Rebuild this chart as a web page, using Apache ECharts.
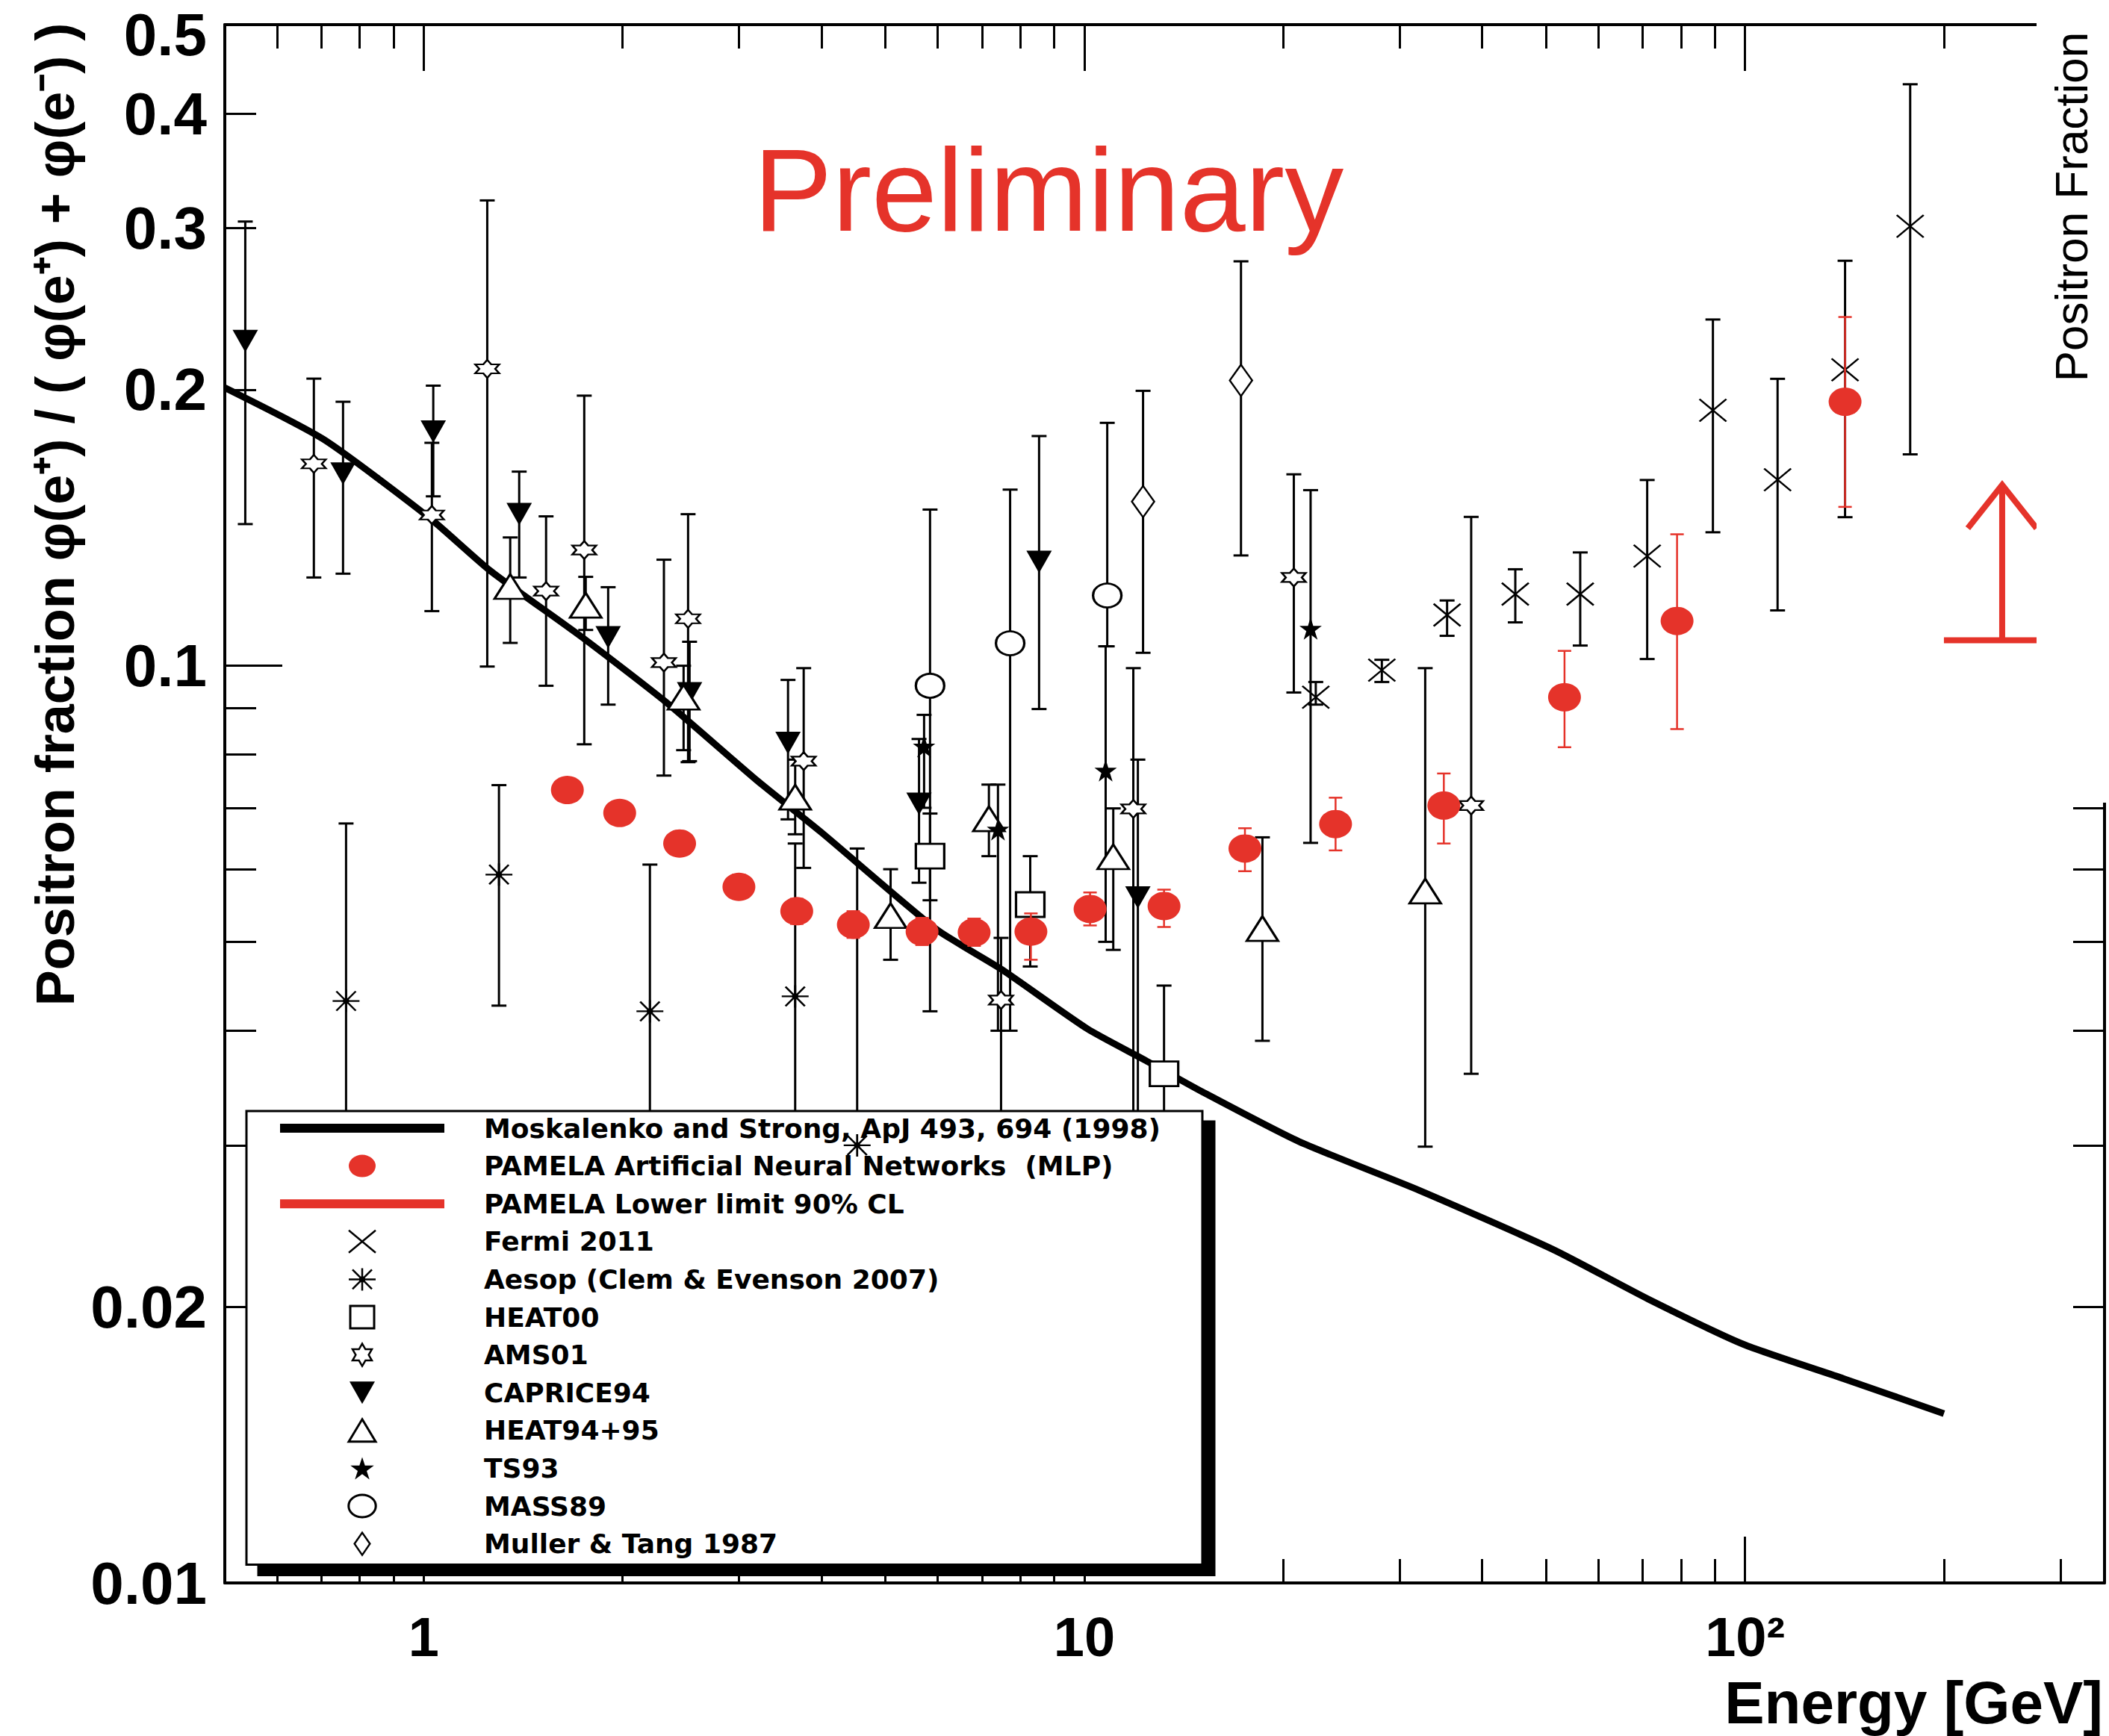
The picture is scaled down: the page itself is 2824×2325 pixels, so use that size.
<!DOCTYPE html>
<html>
<head>
<meta charset="utf-8">
<script src="https://cdn.jsdelivr.net/npm/echarts@6/dist/echarts.min.js"></script>
<style>
html,body{margin:0;padding:0;background:#fff;}
#chart{width:2824px;height:2325px;}
</style>
</head>
<body>
<div id="chart"></div>
<script>
// ---------------- DATA ----------------
const X_MIN = 0.5, X_MAX = 350;
const Y_MIN = 0.01, Y_MAX = 0.5;
const xMajorTicks = [1, 10, 100];
const xTickLabels = ['1', '10', '10²'];
const xMinorTicks = [0.6, 0.7, 0.8, 0.9, 2, 3, 4, 5, 6, 7, 8, 9, 20, 30, 40, 50, 60, 70, 80, 90, 200, 300];
const yLabelValues = [0.01, 0.02, 0.1, 0.2, 0.3, 0.4, 0.5];
const yTickLabels = ['0.01', '0.02', '0.1', '0.2', '0.3', '0.4', '0.5'];
const yMajorTicks = [0.1];
const yMinorTicks = [0.02, 0.03, 0.04, 0.05, 0.06, 0.07, 0.08, 0.09, 0.2, 0.3, 0.4];

const seriesNames = [
  'Moskalenko and Strong, ApJ 493, 694 (1998)',
  'PAMELA Artificial Neural Networks  (MLP)',
  'PAMELA Lower limit 90% CL',
  'Fermi 2011',
  'Aesop (Clem & Evenson 2007)',
  'HEAT00',
  'AMS01',
  'CAPRICE94',
  'HEAT94+95',
  'TS93',
  'MASS89',
  'Muller & Tang 1987'
];

// theory curve: [E (GeV), fraction]
const theory = [
  [0.5, 0.201], [0.706, 0.1765], [1.02, 0.145], [1.26, 0.127], [1.74, 0.1073],
  [2.33, 0.0912], [3.2, 0.0749], [4.0, 0.0658], [5.97, 0.0516], [7.48, 0.0467],
  [10.1, 0.0402], [12.4, 0.0371], [15.1, 0.0343], [21.1, 0.0303], [32.1, 0.0268],
  [51.2, 0.0231], [71.3, 0.0204], [99.5, 0.0182], [141, 0.0167], [200, 0.0153]
];

// point series: [E, value, lowErr, highErr]
const pamela = [
  [1.65, 0.0732, 0.0712, 0.0753], [1.98, 0.0691, 0.0672, 0.0711], [2.44, 0.0640, 0.0622, 0.0659],
  [3.00, 0.0574, 0.0557, 0.0592], [3.67, 0.0540, 0.0523, 0.0557], [4.47, 0.0522, 0.0505, 0.0540],
  [5.68, 0.0513, 0.0496, 0.0531], [6.81, 0.0512, 0.0495, 0.0530], [8.30, 0.0513, 0.0478, 0.0537],
  [10.2, 0.0543, 0.0521, 0.0566], [13.2, 0.0547, 0.0519, 0.0570], [17.5, 0.0632, 0.0597, 0.0665],
  [24.0, 0.0672, 0.0629, 0.0718], [35.0, 0.0704, 0.0640, 0.0763], [53.3, 0.0924, 0.0815, 0.1038],
  [78.9, 0.1119, 0.0853, 0.1391], [141.7, 0.194, 0.149, 0.240]
];
const pamelaLimit = [[245, 0.1066]];

const fermi = [
  [22.4, 0.0924, 0.0907, 0.0960], [28.2, 0.0989, 0.0960, 0.1015], [35.4, 0.1136, 0.1078, 0.1178],
  [44.9, 0.1197, 0.1115, 0.1274], [56.3, 0.1197, 0.1052, 0.1329], [71.1, 0.1317, 0.1017, 0.1594],
  [89.4, 0.1899, 0.1398, 0.2385], [112, 0.1595, 0.1149, 0.2055], [141.7, 0.2102, 0.1452, 0.2764],
  [177.8, 0.3014, 0.170, 0.4305]
];
const aesop = [
  [0.763, 0.0431, 0.026, 0.0673], [1.30, 0.0592, 0.0426, 0.0741], [2.20, 0.0420, 0.026, 0.0607],
  [3.65, 0.0436, 0.027, 0.0640], [4.53, 0.030, 0.022, 0.0632]
];
const heat00 = [
  [5.84, 0.0620, 0.0555, 0.0690], [8.28, 0.0549, 0.0470, 0.0620], [13.2, 0.0359, 0.028, 0.0448]
];
const ams01 = [
  [0.682, 0.166, 0.1248, 0.2056], [1.029, 0.146, 0.1147, 0.175], [1.248, 0.2107, 0.0998, 0.3216],
  [1.532, 0.1206, 0.0951, 0.1455], [1.75, 0.1337, 0.0821, 0.197], [2.31, 0.1008, 0.0759, 0.1305],
  [2.513, 0.1125, 0.0785, 0.1463], [3.76, 0.0787, 0.0602, 0.0994], [7.48, 0.0432, 0.030, 0.0505],
  [11.86, 0.0698, 0.030, 0.0994], [20.75, 0.1248, 0.0935, 0.1617], [38.5, 0.0704, 0.0359, 0.1453]
];
const caprice94 = [
  [0.537, 0.226, 0.1427, 0.305], [0.755, 0.162, 0.126, 0.194], [1.034, 0.180, 0.153, 0.202],
  [1.395, 0.1463, 0.1248, 0.1628], [1.902, 0.1074, 0.0907, 0.1218], [2.526, 0.0933, 0.0787, 0.1062],
  [3.56, 0.0824, 0.068, 0.0965], [5.62, 0.0707, 0.058, 0.0832], [8.54, 0.1298, 0.0897, 0.178],
  [12.05, 0.0559, 0.030, 0.079]
];
const heat9495 = [
  [1.352, 0.1220, 0.1059, 0.138], [1.759, 0.1164, 0.1094, 0.125], [2.474, 0.0924, 0.0809, 0.100],
  [3.65, 0.0719, 0.0655, 0.079], [5.09, 0.0534, 0.0478, 0.060], [7.17, 0.0681, 0.0620, 0.0742],
  [11.06, 0.0619, 0.0490, 0.0699], [18.6, 0.0517, 0.0390, 0.0650], [32.8, 0.0568, 0.0299, 0.0994]
];
const ts93 = [
  [5.72, 0.0817, 0.070, 0.0884], [7.40, 0.0663, 0.040, 0.0742], [10.77, 0.0769, 0.050, 0.105],
  [22.0, 0.1098, 0.0641, 0.1554]
];
const mass89 = [
  [5.84, 0.0951, 0.042, 0.148], [7.72, 0.1058, 0.040, 0.1556], [10.83, 0.1193, 0.105, 0.184]
];
const muller = [
  [12.27, 0.151, 0.1033, 0.1994], [17.26, 0.2047, 0.1319, 0.276]
];

// ---------------- STYLE ----------------
const RED = '#e5332a';
const BLACK = '#000';
const FONT = "'Liberation Sans', Arial, Helvetica, sans-serif";
const FONT_LEG = "'DejaVu Sans', 'Liberation Sans', sans-serif";

const ICON_LINE = 'path://M0,0L220,0L220,12L0,12Z';
const SYM_X = 'path://M0,0L36,30M36,0L0,30';
const SYM_AST = 'path://M0,15L36,15M18,0L18,30M5,2L31,28M31,2L5,28M15,15A3,3,0,1,0,21,15A3,3,0,1,0,15,15Z';
const SYM_HEX = 'path://M100,0L128.9,50L186.6,50L157.7,100L186.6,150L128.9,150L100,200L71.1,150L13.4,150L42.3,100L13.4,50L71.1,50Z';
const SYM_STAR = 'path://M100,0L122.45,69.1L195.1,69.1L136.3,111.8L158.8,180.9L100,138.2L41.2,180.9L63.7,111.8L4.9,69.1L77.55,69.1Z';
const SYM_SQUARE = 'path://M0,0L32,0L32,30L0,30Z';
const SYM_TRI_UP = 'path://M18,0L36,30L0,30Z';
const SYM_TRI_DOWN = 'path://M0,0L34,0L17,30Z';
const SYM_DIAMOND = 'path://M11,0L22,16L11,32L0,16Z';
const SYM_ELLIPSE = 'path://M0,14A17,14,0,1,0,34,14A17,14,0,1,0,0,14Z';
const SYM_DOT = 'path://M0,15A18,15,0,1,0,36,15A18,15,0,1,0,0,15Z';

function findIndex(values, v) {
  for (let i = 0; i < values.length; i++) {
    if (Math.abs(Math.log10(values[i]) - Math.log10(v)) < 1e-4) return i;
  }
  return -1;
}

function errSeries(name, rows, color, lw, cap) {
  return {
    type: 'custom', name: name, z: 3, silent: true, animation: false,
    data: rows.map(r => [r[0], r[2], r[3]]),
    encode: { x: 0, y: [1, 2] },
    renderItem: function (params, api) {
      const x = api.value(0);
      const a = api.coord([x, api.value(1)]);
      const b = api.coord([x, api.value(2)]);
      const st = { stroke: color, lineWidth: lw };
      const h = cap / 2;
      return {
        type: 'group', children: [
          { type: 'line', shape: { x1: a[0], y1: a[1], x2: b[0], y2: b[1] }, style: st },
          { type: 'line', shape: { x1: a[0] - h, y1: a[1], x2: a[0] + h, y2: a[1] }, style: st },
          { type: 'line', shape: { x1: b[0] - h, y1: b[1], x2: b[0] + h, y2: b[1] }, style: st }
        ]
      };
    }
  };
}

function markSeries(name, rows, symbol, size, itemStyle, extra) {
  return Object.assign({
    type: 'scatter', name: name, z: 4, silent: true, animation: false,
    data: rows.map(r => [r[0], r[1]]),
    symbol: symbol, symbolSize: size, itemStyle: Object.assign({ opacity: 1 }, itemStyle)
  }, extra || {});
}

const hollow = { color: '#fff', borderColor: BLACK, borderWidth: 3 };
const strokeOnly = { color: 'rgba(0,0,0,0)', borderColor: BLACK, borderWidth: 2.5 };

const series = [
  {
    type: 'line', name: seriesNames[0], data: theory, showSymbol: false, symbol: 'none',
    smooth: 0.2, z: 2, silent: true, animation: false,
    lineStyle: { color: BLACK, width: 9 }, itemStyle: { color: BLACK }
  },
  markSeries(seriesNames[3], fermi, SYM_X, [36, 30], strokeOnly),
  errSeries(seriesNames[3], fermi, BLACK, 3, 20),
  markSeries(seriesNames[4], aesop, SYM_AST, [36, 30], { color: BLACK, borderColor: BLACK, borderWidth: 2.5 }),
  errSeries(seriesNames[4], aesop, BLACK, 3, 20),
  markSeries(seriesNames[5], heat00, 'rect', [38, 33], hollow),
  errSeries(seriesNames[5], heat00, BLACK, 3, 20),
  markSeries(seriesNames[6], ams01, SYM_HEX, [32, 24], { color: '#fff', borderColor: BLACK, borderWidth: 2.5 }),
  errSeries(seriesNames[6], ams01, BLACK, 3, 20),
  markSeries(seriesNames[7], caprice94, 'triangle', [34, 30], { color: BLACK }, { symbolRotate: 180 }),
  errSeries(seriesNames[7], caprice94, BLACK, 3, 20),
  markSeries(seriesNames[8], heat9495, 'triangle', [42, 33], hollow),
  errSeries(seriesNames[8], heat9495, BLACK, 3, 20),
  markSeries(seriesNames[9], ts93, SYM_STAR, [30, 30], { color: BLACK }),
  errSeries(seriesNames[9], ts93, BLACK, 3, 20),
  markSeries(seriesNames[10], mass89, 'circle', [38, 32], hollow),
  errSeries(seriesNames[10], mass89, BLACK, 3, 20),
  markSeries(seriesNames[11], muller, 'diamond', [30, 42], { color: '#fff', borderColor: BLACK, borderWidth: 2.5 }),
  errSeries(seriesNames[11], muller, BLACK, 3, 20),
  markSeries(seriesNames[1], pamela, 'circle', [44, 38], { color: RED }, { z: 6 }),
  Object.assign(errSeries(seriesNames[1], pamela, RED, 2.5, 18), { z: 5 }),
  {
    type: 'custom', name: seriesNames[2], z: 6, silent: true, animation: false,
    data: pamelaLimit, encode: { x: 0, y: 1 },
    renderItem: function (params, api) {
      const p = api.coord([api.value(0), api.value(1)]);
      const st = { stroke: RED, lineWidth: 8, fill: null };
      const len = 208, hw = 46, hh = 58, bar = 78;
      return {
        type: 'group', children: [
          { type: 'line', shape: { x1: p[0] - bar, y1: p[1], x2: p[0] + bar, y2: p[1] }, style: st },
          { type: 'line', shape: { x1: p[0], y1: p[1], x2: p[0], y2: p[1] - len }, style: st },
          { type: 'polyline', shape: { points: [[p[0] - hw, p[1] - len + hh], [p[0], p[1] - len], [p[0] + hw, p[1] - len + hh]] }, style: st }
        ]
      };
    }
  }
];

const axisLineStyle = { color: BLACK, width: 4 };
const tickLineStyle = { color: BLACK, width: 3 };
const baseX = { type: 'log', logBase: 10, min: X_MIN, max: X_MAX, splitLine: { show: false }, minorTick: { show: false }, minorSplitLine: { show: false } };
const baseY = { type: 'log', logBase: 10, min: Y_MIN, max: Y_MAX, splitLine: { show: false }, minorTick: { show: false }, minorSplitLine: { show: false } };

const yLabelFont = { fontSize: 80, lineHeight: 58, fontWeight: 'bold', fontFamily: FONT, color: BLACK };

const xAxis = [
  Object.assign({}, baseX, {
    position: 'bottom',
    axisLine: { show: true, onZero: false, lineStyle: axisLineStyle },
    axisTick: { show: true, inside: true, length: 62, customValues: xMajorTicks, lineStyle: tickLineStyle },
    axisLabel: {
      show: true, customValues: xMajorTicks, margin: 35,
      formatter: v => { const i = findIndex(xMajorTicks, v); return i < 0 ? '' : xTickLabels[i]; },
      fontSize: 74, fontWeight: 'bold', fontFamily: FONT, color: BLACK
    }
  }),
  Object.assign({}, baseX, {
    position: 'bottom', axisLine: { show: false },
    axisTick: { show: true, inside: true, length: 32, customValues: xMinorTicks, lineStyle: tickLineStyle },
    axisLabel: { show: false }
  }),
  Object.assign({}, baseX, {
    position: 'top',
    axisLine: { show: true, onZero: false, lineStyle: axisLineStyle },
    axisTick: { show: true, inside: true, length: 62, customValues: xMajorTicks, lineStyle: tickLineStyle },
    axisLabel: { show: false }
  }),
  Object.assign({}, baseX, {
    position: 'top', axisLine: { show: false },
    axisTick: { show: true, inside: true, length: 32, customValues: xMinorTicks, lineStyle: tickLineStyle },
    axisLabel: { show: false }
  })
];

const yAxis = [
  Object.assign({}, baseY, {
    position: 'left',
    axisLine: { show: true, onZero: false, lineStyle: axisLineStyle },
    axisTick: { show: true, inside: true, length: 77, customValues: yMajorTicks, lineStyle: tickLineStyle },
    axisLabel: Object.assign({
      show: true, customValues: yLabelValues, margin: 24,
      formatter: v => {
        const i = findIndex(yLabelValues, v);
        if (i < 0) return '';
        // the top label sits at the image edge: nudge it down so it stays inside
        return i === yLabelValues.length - 1 ? '{top|' + yTickLabels[i] + '}' : yTickLabels[i];
      },
      rich: { top: Object.assign({ padding: [26, 0, 0, 0] }, yLabelFont) }
    }, yLabelFont)
  }),
  Object.assign({}, baseY, {
    position: 'left', axisLine: { show: false },
    axisTick: { show: true, inside: true, length: 42, customValues: yMinorTicks, lineStyle: tickLineStyle },
    axisLabel: { show: false }
  }),
  Object.assign({}, baseY, {
    position: 'right',
    axisLine: { show: true, onZero: false, lineStyle: axisLineStyle },
    axisTick: { show: true, inside: true, length: 77, customValues: yMajorTicks, lineStyle: tickLineStyle },
    axisLabel: { show: false }
  }),
  Object.assign({}, baseY, {
    position: 'right', axisLine: { show: false },
    axisTick: { show: true, inside: true, length: 42, customValues: yMinorTicks, lineStyle: tickLineStyle },
    axisLabel: { show: false }
  })
];

const legendData = [
  { name: seriesNames[0], icon: ICON_LINE, itemStyle: { color: BLACK, borderWidth: 0 } },
  { name: seriesNames[1], icon: SYM_DOT, itemStyle: { color: RED, borderWidth: 0 } },
  { name: seriesNames[2], icon: ICON_LINE, itemStyle: { color: RED, borderWidth: 0 } },
  { name: seriesNames[3], icon: SYM_X, itemStyle: { color: 'rgba(0,0,0,0)', borderColor: BLACK, borderWidth: 2.5 } },
  { name: seriesNames[4], icon: SYM_AST, itemStyle: { color: BLACK, borderColor: BLACK, borderWidth: 2.5 } },
  { name: seriesNames[5], icon: SYM_SQUARE, itemStyle: { color: '#fff', borderColor: BLACK, borderWidth: 3 } },
  { name: seriesNames[6], icon: SYM_HEX, itemStyle: { color: '#fff', borderColor: BLACK, borderWidth: 2.5 } },
  { name: seriesNames[7], icon: SYM_TRI_DOWN, itemStyle: { color: BLACK, borderWidth: 0 } },
  { name: seriesNames[8], icon: SYM_TRI_UP, itemStyle: { color: '#fff', borderColor: BLACK, borderWidth: 3 } },
  { name: seriesNames[9], icon: SYM_STAR, itemStyle: { color: BLACK, borderWidth: 0 } },
  { name: seriesNames[10], icon: SYM_ELLIPSE, itemStyle: { color: '#fff', borderColor: BLACK, borderWidth: 3 } },
  { name: seriesNames[11], icon: SYM_DIAMOND, itemStyle: { color: '#fff', borderColor: BLACK, borderWidth: 2.5 } }
];

const option = {
  animation: false,
  backgroundColor: '#fff',
  grid: { left: 301, top: 33, right: 6, bottom: 205, containLabel: false, outerBoundsMode: 'none' },
  xAxis: xAxis,
  yAxis: yAxis,
  legend: {
    orient: 'vertical', left: 330, top: 1488,
    padding: [5, 56, 10, 45],
    itemWidth: 220, itemHeight: 30, itemGap: 14.6,
    backgroundColor: '#fff', borderColor: BLACK, borderWidth: 3, borderRadius: 0,
    shadowColor: BLACK, shadowBlur: 0, shadowOffsetX: 16, shadowOffsetY: 14,
    selectedMode: false,
    textStyle: { fontFamily: FONT_LEG, fontWeight: 'bold', fontSize: 36, lineHeight: 36, color: BLACK, padding: [0, 0, 0, 48] },
    data: legendData
  },
  graphic: [
    { type: 'rect', x: 2727, y: 0, z: 100, shape: { x: 0, y: 0, width: 97, height: 1075 }, style: { fill: '#fff' } },
    { type: 'text', x: 2773, y: 277, rotation: Math.PI / 2, z: 101,
      style: { text: 'Positron Fraction', fontFamily: FONT, fontSize: 62, lineHeight: 62, fill: BLACK, align: 'center', verticalAlign: 'middle' } },
    { type: 'text', x: 1009, y: 254, z: 101,
      style: { text: 'Preliminary', fontFamily: FONT, fontSize: 158, fill: RED, align: 'left', verticalAlign: 'middle' } },
    { type: 'text', x: 2816, y: 2280, z: 101,
      style: { text: 'Energy [GeV]', fontFamily: FONT, fontWeight: 'bold', fontSize: 80, lineHeight: 64, fill: BLACK, align: 'right', verticalAlign: 'middle' } },
    { type: 'text', x: 74, y: 689, rotation: Math.PI / 2, z: 101,
      style: { text: 'Positron fraction φ(e⁺) / ( φ(e⁺) + φ(e⁻) )', fontFamily: FONT, fontWeight: 'bold', fontSize: 72, lineHeight: 72, fill: BLACK, align: 'center', verticalAlign: 'middle' } }
  ],
  series: series
};

const chart = echarts.init(document.getElementById('chart'), null, { renderer: 'svg', width: 2824, height: 2325 });
chart.setOption(option);
</script>
</body>
</html>
